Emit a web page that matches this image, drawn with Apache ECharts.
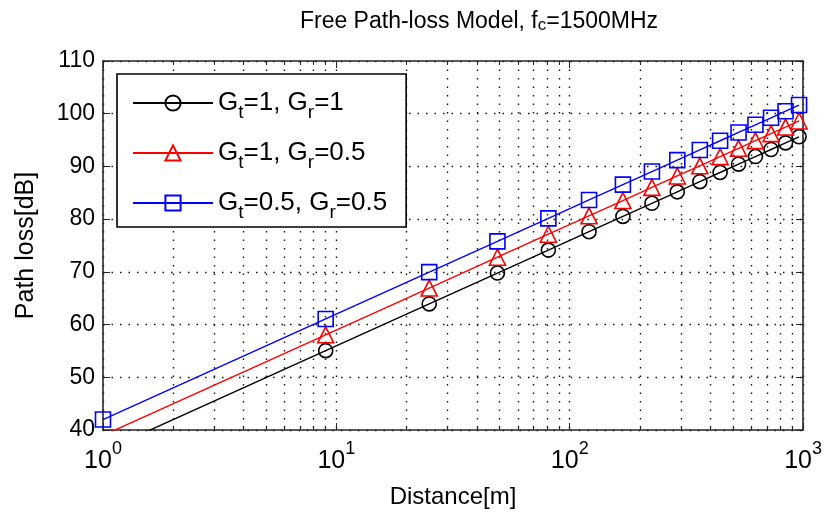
<!DOCTYPE html>
<html>
<head>
<meta charset="utf-8">
<title>Free Path-loss Model</title>
<script src="https://cdn.jsdelivr.net/npm/echarts@6/dist/echarts.min.js"></script>
<style>
  html, body { margin: 0; padding: 0; background: #fff; }
  #chart { width: 825px; height: 517px; }
</style>
</head>
<body>
<div id="chart"></div>
<script>
// Distance samples [m] and path loss [dB] for the three antenna-gain cases
const distance = [1, 9, 25, 49, 81, 121, 169, 225, 289, 361, 441, 529, 625, 729, 841, 961];
const lossGt1Gr1 = [35.96, 55.05, 63.92, 69.77, 74.13, 77.62, 80.52, 83.01, 85.18, 87.11, 88.85, 90.43, 91.88, 93.21, 94.46, 95.62];
const lossGt1Gr05 = [38.97, 58.06, 66.93, 72.78, 77.14, 80.63, 83.53, 86.02, 88.19, 90.12, 91.86, 93.44, 94.89, 96.22, 97.47, 98.63];
const lossGt05Gr05 = [41.98, 61.07, 69.94, 75.79, 80.15, 83.64, 86.54, 89.03, 91.20, 93.13, 94.87, 96.45, 97.90, 99.23, 100.48, 101.64];

const seriesNames = ['G_t=1, G_r=1', 'G_t=1, G_r=0.5', 'G_t=0.5, G_r=0.5'];
const xRange = [1, 1000];
const yRange = [40, 110];
const yStep = 10;

const FONT = '"Liberation Sans", Arial, Helvetica, sans-serif';
const INK = '#000';
const AXIS = '#262626';
const dotted = { color: '#111', width: 1.4, type: [1.5, 7] };

// "G_t" -> G with subscript t, using rich text
function withSub(name) {
  return name.replace(/_([a-z])/g, '{sub|$1}');
}

// Points below the y-range keep the line but drop their marker
function pairs(ys) {
  return distance.map((d, i) => ys[i] < yRange[0]
    ? { value: [d, ys[i]], symbol: 'none' }
    : [d, ys[i]]);
}

function lineSeries(name, ys, color, symbol, size) {
  return {
    name: name,
    type: 'line',
    data: pairs(ys),
    clip: true,
    symbol: symbol,
    symbolSize: size,
    showAllSymbol: true,
    lineStyle: { color: color, width: 1.4 },
    itemStyle: { color: 'rgba(255,255,255,0)', borderColor: color, borderWidth: 1.6 },
    emphasis: { disabled: true },
    z: 3
  };
}

const chart = echarts.init(document.getElementById('chart'), null, { renderer: 'canvas' });

const xAxisBase = {
  type: 'log',
  logBase: 10,
  min: xRange[0],
  max: xRange[1],
  axisLine: { show: true, onZero: false, lineStyle: { color: AXIS, width: 1.6 } },
  axisTick: { show: true, inside: true, length: 7, lineStyle: { color: AXIS, width: 1 } },
  minorTick: { show: true, splitNumber: 9, length: 4, lineStyle: { color: AXIS, width: 1 } }
};

const yAxisBase = {
  type: 'value',
  min: yRange[0],
  max: yRange[1],
  interval: yStep,
  axisLine: { show: true, onZero: false, lineStyle: { color: AXIS, width: 1.6 } },
  axisTick: { show: true, inside: true, length: 7, lineStyle: { color: AXIS, width: 1 } }
};

chart.setOption({
  animation: false,
  backgroundColor: '#fff',
  title: {
    text: '{n|Free Path-loss Model, f}{sub|c}{n|=1500MHz}',
    left: 474,
    textAlign: 'center',
    top: 5,
    textStyle: {
      fontFamily: FONT,
      fontWeight: 'normal',
      color: INK,
      rich: {
        n: { fontFamily: FONT, fontSize: 23, color: INK, lineHeight: 24, verticalAlign: 'top' },
        sub: { fontFamily: FONT, fontSize: 17, color: INK, lineHeight: 17, padding: [19, 0, 0, 0], verticalAlign: 'bottom' }
      }
    }
  },
  grid: { left: 103, right: 17, top: 61, bottom: 87 },
  legend: {
    left: 117,
    top: 74,
    orient: 'vertical',
    padding: [10, 19, 5, 15],
    itemGap: 12,
    itemWidth: 80,
    itemHeight: 19,
    borderColor: '#000',
    borderWidth: 1.6,
    backgroundColor: '#fff',
    data: seriesNames,
    formatter: withSub,
    selectedMode: false,
    textStyle: {
      fontFamily: FONT,
      fontSize: 26,
      color: INK,
      lineHeight: 30,
      rich: {
        sub: { fontFamily: FONT, fontSize: 19, color: INK, lineHeight: 19, padding: [19, 0, 0, 0] }
      }
    }
  },
  xAxis: [
    Object.assign({}, xAxisBase, {
      position: 'bottom',
      name: 'Distance[m]',
      nameLocation: 'middle',
      nameGap: 55,
      nameTextStyle: { fontFamily: FONT, fontSize: 24, color: INK },
      axisLabel: {
        margin: 14,
        formatter: v => '{b|10}{e|' + Math.round(Math.log10(v)) + '}',
        rich: {
          b: { fontFamily: FONT, fontSize: 25, color: INK, lineHeight: 26, padding: [8, 0, 0, 0] },
          e: { fontFamily: FONT, fontSize: 18, color: INK, lineHeight: 18, padding: [0, 0, 16, 0] }
        }
      },
      splitLine: { show: true, lineStyle: dotted },
      minorSplitLine: { show: true, lineStyle: dotted }
    }),
    Object.assign({}, xAxisBase, {
      position: 'top',
      axisLabel: { show: false },
      splitLine: { show: false },
      minorSplitLine: { show: false }
    })
  ],
  yAxis: [
    Object.assign({}, yAxisBase, {
      position: 'left',
      name: 'Path loss[dB]',
      nameLocation: 'middle',
      nameGap: 64,
      nameRotate: 90,
      nameTextStyle: { fontFamily: FONT, fontSize: 25, color: INK },
      axisLabel: { margin: 8, fontFamily: FONT, fontSize: 23, color: INK },
      splitLine: { show: true, lineStyle: dotted }
    }),
    Object.assign({}, yAxisBase, {
      position: 'right',
      axisLabel: { show: false },
      splitLine: { show: false }
    })
  ],
  series: [
    lineSeries(seriesNames[0], lossGt1Gr1, '#000000', 'circle', 14),
    lineSeries(seriesNames[1], lossGt1Gr05, '#ff0000', 'triangle', 16),
    lineSeries(seriesNames[2], lossGt05Gr05, '#0000ff', 'rect', 15)
  ]
});
</script>
</body>
</html>
